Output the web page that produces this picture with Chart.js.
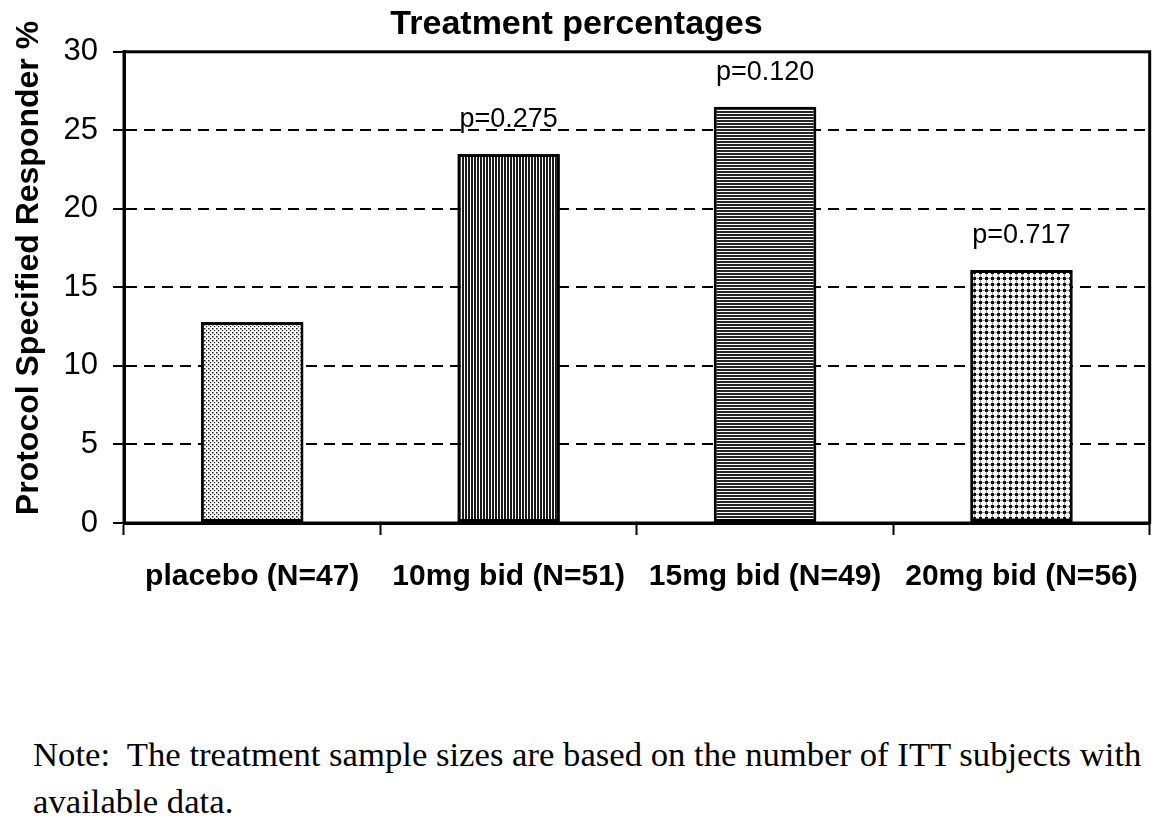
<!DOCTYPE html>
<html>
<head>
<meta charset="utf-8">
<title>Treatment percentages</title>
<script src="https://cdn.jsdelivr.net/npm/chart.js@4.4.1/dist/chart.umd.min.js"></script>
<style>
  html, body { margin: 0; padding: 0; background: #fff; }
  #wrap { position: relative; width: 1163px; height: 835px; overflow: hidden; }
  #chartBox { position: absolute; left: 0; top: 0; width: 1163px; height: 700px; }
  #note {
    position: absolute; left: 33px; top: 731px;
    font-family: "Liberation Serif", "Times New Roman", serif;
    font-size: 34.7px; line-height: 47px; color: #000; white-space: nowrap;
  }
</style>
</head>
<body>
<div id="wrap">
  <div id="chartBox"><canvas id="chart"></canvas></div>
  <div id="note">Note:&nbsp; The treatment sample sizes are based on the number of ITT subjects with<br>available data.</div>
</div>
<script>
// dados
const categories = ['placebo (N=47)', '10mg bid (N=51)', '15mg bid (N=49)', '20mg bid (N=56)'];
const responderPct = [12.8, 23.5, 26.5, 16.1];
const pLabels = ['', 'p=0.275', 'p=0.120', 'p=0.717'];
const yTicks = [0, 5, 10, 15, 20, 25, 30];

const FONT = "'Liberation Sans', Arial, Helvetica, sans-serif";
Chart.defaults.font.family = FONT;
Chart.defaults.color = '#000';

// padrões de preenchimento das barras (imitam as tramas do original)
function makePattern(size, draw) {
    const c = document.createElement('canvas');
    c.width = size; c.height = size;
    const g = c.getContext('2d');
    g.fillStyle = '#fff';
    g.fillRect(0, 0, size, size);
    draw(g);
    return c.getContext('2d').createPattern(c, 'repeat');
}

const stipple = makePattern(4, g => {
    g.fillStyle = '#222';
    g.fillRect(0, 0, 1.5, 1.5);
    g.fillRect(2, 2, 1.2, 1.2);
});
const vertLines = makePattern(3, g => {
    g.fillStyle = '#1a1a1a';
    g.fillRect(0, 0, 2, 3);
});
const horizLines = makePattern(3, g => {
    g.fillStyle = '#262626';
    g.fillRect(0, 0, 3, 2);
});
const dotGrid = makePattern(6, g => {
    g.fillStyle = '#999';
    g.fillRect(0, 2, 6, 1);
    g.fillRect(2, 0, 1, 6);
    g.fillStyle = '#111';
    g.fillRect(1, 1, 3, 3);
});
const barFills = [stipple, vertLines, horizLines, dotGrid];

// moldura completa da área do gráfico
const frame = {
    id: 'frame',
    afterDraw(chart) {
        const { ctx, chartArea: a } = chart;
        ctx.save();
        ctx.strokeStyle = '#000';
        ctx.lineWidth = 3;
        ctx.strokeRect(a.left, a.top, a.right - a.left, a.bottom - a.top);
        ctx.restore();
    }
};

// rótulos de p-valor acima das barras
const pValueLabels = {
    id: 'pValueLabels',
    afterDatasetsDraw(chart) {
        const { ctx } = chart;
        const meta = chart.getDatasetMeta(0);
        ctx.save();
        ctx.font = '27px ' + FONT;
        ctx.fillStyle = '#000';
        ctx.textAlign = 'center';
        ctx.textBaseline = 'alphabetic';
        meta.data.forEach((bar, i) => {
            if (pLabels[i]) ctx.fillText(pLabels[i], bar.x, bar.y - 27);
        });
        ctx.restore();
    }
};

// título do eixo y
const yTitle = {
    id: 'yTitle',
    afterDraw(chart) {
        const { ctx } = chart;
        ctx.save();
        ctx.translate(29, 268);
        ctx.rotate(-Math.PI / 2);
        ctx.font = 'bold 32px ' + FONT;
        ctx.fillStyle = '#000';
        ctx.textAlign = 'center';
        ctx.textBaseline = 'middle';
        ctx.fillText('Protocol Specified Responder %', 0, 0);
        ctx.restore();
    }
};

new Chart(document.getElementById('chart'), {
    type: 'bar',
    data: {
        labels: categories,
        datasets: [{
            label: 'Protocol Specified Responder %',
            data: responderPct,
            backgroundColor: barFills,
            borderColor: '#000',
            borderWidth: 3,
            borderSkipped: false,
            categoryPercentage: 1.0,
            barPercentage: 0.4
        }]
    },
    options: {
        responsive: true,
        maintainAspectRatio: false,
        animation: false,
        layout: { padding: { left: 0, right: 10, top: 0, bottom: 0 } },
        plugins: {
            legend: { display: false },
            tooltip: { enabled: false },
            title: {
                display: true,
                text: 'Treatment percentages',
                color: '#000',
                font: { size: 34, weight: 'bold' },
                padding: { top: 4, bottom: 7 }
            }
        },
        scales: {
            x: {
                afterFit: s => { s.height = 177; },
                grid: {
                    offset: true,
                    drawOnChartArea: false,
                    drawTicks: true,
                    tickLength: 12,
                    tickColor: '#000',
                    tickWidth: 2
                },
                border: { display: true, color: '#000', width: 3 },
                ticks: {
                    autoSkip: false,
                    maxRotation: 0,
                    padding: 24,
                    color: '#000',
                    font: { size: 30, weight: 'bold' }
                }
            },
            y: {
                min: 0,
                max: 30,
                afterFit: s => { s.width = 124; },
                afterBuildTicks: s => { s.ticks = yTicks.map(v => ({ value: v })); },
                grid: {
                    color: '#000',
                    lineWidth: 2,
                    drawTicks: true,
                    tickLength: 11,
                    tickColor: '#000',
                    tickWidth: 2,
                    tickBorderDash: []
                },
                border: { display: true, color: '#000', width: 3, dash: [11, 7] },
                ticks: {
                    padding: 15,
                    color: '#000',
                    font: { size: 31 }
                }
            }
        }
    },
    plugins: [frame, pValueLabels, yTitle]
});
</script>
</body>
</html>
